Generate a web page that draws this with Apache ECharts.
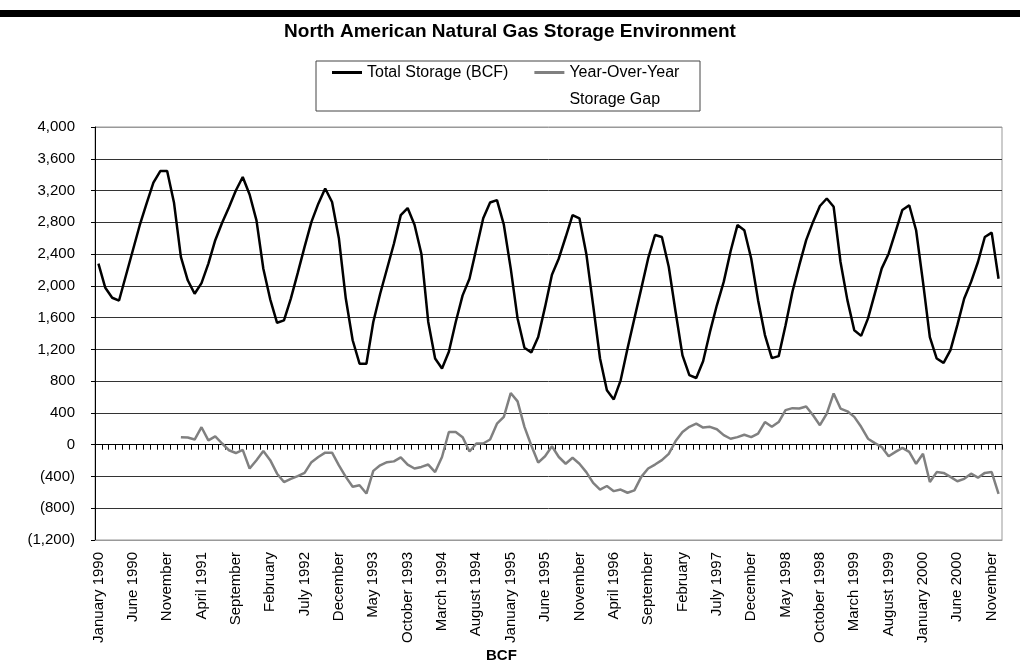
<!DOCTYPE html>
<html>
<head>
<meta charset="utf-8">
<title>North American Natural Gas Storage Environment</title>
<script src="https://cdn.jsdelivr.net/npm/echarts@6/dist/echarts.min.js"></script>
<style>
    html, body { margin: 0; padding: 0; background: #fff; }
    #chart { width: 1020px; height: 670px; }
</style>
</head>
<body>
<div id="chart"></div>
<script>
// months Jan 1990 .. Dec 2000
const MONTHS = ['January', 'February', 'March', 'April', 'May', 'June', 'July',
    'August', 'September', 'October', 'November', 'December']
const YEARS = [1990, 1991, 1992, 1993, 1994, 1995, 1996, 1997, 1998, 1999, 2000]

// label shown every 5th month, as printed on the original
const tickLabels = ['January 1990', 'June 1990', 'November', 'April 1991', 'September',
    'February', 'July 1992', 'December', 'May 1993', 'October 1993', 'March 1994',
    'August 1994', 'January 1995', 'June 1995', 'November', 'April 1996', 'September',
    'February', 'July 1997', 'December', 'May 1998', 'October 1998', 'March 1999',
    'August 1999', 'January 2000', 'June 2000', 'November']

// Total Storage (BCF)
const storageValues = [
    2280, 1975, 1850, 1815, 2130, 2445, 2760, 3035, 3300, 3445, 3445, 3045,
    2365, 2070, 1900, 2035, 2280, 2575, 2795, 2990, 3200, 3370, 3150, 2825,
    2215, 1830, 1535, 1565, 1840, 2160, 2490, 2805, 3035, 3225, 3055, 2595,
    1840, 1315, 1020, 1020, 1545, 1900, 2215, 2530, 2890, 2980, 2770, 2405,
    1545, 1085, 960, 1170, 1545, 1880, 2090, 2470, 2850, 3050, 3080, 2770,
    2220, 1590, 1220, 1160, 1355, 1735, 2140, 2345, 2615, 2890, 2850, 2405,
    1755, 1085, 685, 570, 810, 1210, 1590, 1965, 2345, 2640, 2615, 2240,
    1670, 1125, 875, 840, 1050, 1420, 1755, 2050, 2435, 2765, 2700, 2345,
    1820, 1380, 1090, 1115, 1505, 1925, 2260, 2575, 2805, 3005, 3100, 2995,
    2300, 1820, 1440, 1370, 1590, 1905, 2220, 2405, 2680, 2955, 3015, 2700,
    2050, 1355, 1085, 1030, 1190, 1505, 1840, 2050, 2300, 2615, 2670, 2090
]

// Year-Over-Year Storage Gap (no value for 1990)
const gapValues = [
    null, null, null, null, null, null, null, null, null, null, null, null,
    95, 90, 65, 220, 55, 105, 15, -70, -105, -65, -300, -195,
    -80, -195, -365, -470, -430, -395, -355, -220, -155, -100, -100, -260,
    -405, -530, -510, -615, -330, -260, -220, -210, -160, -250, -300, -280,
    -250, -345, -155, 160, 160, 95, -85, 15, 15, 65, 265, 350,
    650, 545, 225, -10, -225, -145, -20, -155, -240, -165, -240, -345,
    -480, -565, -520, -585, -565, -605, -575, -405, -300, -250, -195, -115,
    45, 160, 225, 265, 215, 225, 195, 120, 75, 95, 125, 95,
    140, 285, 225, 285, 435, 460, 455, 480, 370, 245, 390, 645,
    455, 420, 350, 225, 75, 20, -30, -145, -90, -40, -90, -240,
    -115, -470, -345, -355, -405, -460, -430, -365, -415, -355, -345, -620
]

const STORAGE_NAME = 'Total Storage (BCF)'
const GAP_NAME = 'Year-Over-Year\nStorage Gap'

const categories = []
YEARS.forEach((y) => {
    MONTHS.forEach((m) => {
        categories.push(m + ' ' + y)
    })
})

const FONT = '"Liberation Sans", Arial, sans-serif'

const fmtValue = (v) => {
    const s = Math.abs(v).toLocaleString('en-US')
    return v < 0 ? '(' + s + ')' : s
}

const chart = echarts.init(document.getElementById('chart'), null, { renderer: 'canvas' })

const option = {
    animation: false,
    backgroundColor: '#fff',
    textStyle: { fontFamily: FONT, color: '#000' },
    title: {
        text: 'North American Natural Gas Storage Environment',
        left: 'center',
        top: 17,
        textStyle: {
            fontFamily: FONT,
            fontSize: 19,
            fontWeight: 'bold',
            color: '#000',
        },
    },
    legend: {
        left: 332,
        top: 32,
        padding: 0,
        icon: 'rect',
        itemWidth: 30,
        itemHeight: 3,
        itemGap: 26,
        selectedMode: false,
        textStyle: { fontFamily: FONT, fontSize: 16, lineHeight: 27, color: '#000' },
        // blank first line keeps the 2-line label's top line level with its key
        formatter: (name) => (name === GAP_NAME ? ' \n' + name : name),
        data: [STORAGE_NAME, GAP_NAME],
    },
    graphic: [
        // thick rule across the top of the page
        {
            type: 'rect',
            shape: { x: 0, y: 10, width: 1020, height: 7 },
            style: { fill: '#000' },
            silent: true,
        },
        // legend frame
        {
            type: 'rect',
            shape: { x: 316, y: 61, width: 384, height: 50 },
            style: { fill: 'none', stroke: '#444', lineWidth: 1 },
            silent: true,
        },
        {
            type: 'text',
            left: 486,
            top: 648,
            style: {
                text: 'BCF',
                fontFamily: FONT,
                fontSize: 15,
                fontWeight: 'bold',
                fill: '#000',
            },
        },
    ],
    grid: {
        left: 95,
        right: 18,
        top: 127,
        bottom: 130,
        show: true,
        borderColor: '#999',
        borderWidth: 1,
    },
    xAxis: [
        {
            type: 'category',
            data: categories,
            boundaryGap: true,
            position: 'bottom',
            axisLine: { show: true, onZero: false, lineStyle: { color: '#999', width: 1 } },
            axisTick: { show: false },
            axisLabel: {
                interval: 4,
                rotate: 90,
                margin: 12,
                fontFamily: FONT,
                fontSize: 15,
                color: '#000',
                formatter: (value, index) => tickLabels[Math.round(index / 5)],
            },
            splitLine: { show: false },
        },
        {
            // zero line with monthly tick marks
            type: 'category',
            data: categories,
            boundaryGap: true,
            position: 'bottom',
            axisLine: { show: true, onZero: true, onZeroAxisIndex: 0, lineStyle: { color: '#000', width: 1 } },
            axisTick: { show: true, interval: 0, length: 5, lineStyle: { color: '#000', width: 1 } },
            axisLabel: { show: false },
            splitLine: { show: false },
        },
    ],
    yAxis: {
        type: 'value',
        min: -1200,
        max: 4000,
        interval: 400,
        axisLine: { show: true, lineStyle: { color: '#000', width: 1 } },
        axisTick: { show: true, length: 4, lineStyle: { color: '#000' } },
        axisLabel: {
            margin: 20,
            fontFamily: FONT,
            fontSize: 15,
            color: '#000',
            formatter: fmtValue,
        },
        splitLine: {
            show: true,
            lineStyle: {
                color: ['#999', '#333', '#333', '#333', '#333', '#333', '#333', '#333',
                    '#333', '#333', '#333', '#333', '#333', '#999'],
                width: 1,
            },
        },
    },
    series: [
        {
            name: STORAGE_NAME,
            type: 'line',
            xAxisIndex: 0,
            data: storageValues,
            symbol: 'none',
            smooth: false,
            color: '#000',
            lineStyle: { color: '#000', width: 2.5 },
            z: 3,
        },
        {
            name: GAP_NAME,
            type: 'line',
            xAxisIndex: 0,
            data: gapValues,
            symbol: 'none',
            smooth: false,
            connectNulls: false,
            color: '#808080',
            lineStyle: { color: '#808080', width: 2.5 },
            z: 2,
        },
    ],
}

chart.setOption(option)
</script>
</body>
</html>
